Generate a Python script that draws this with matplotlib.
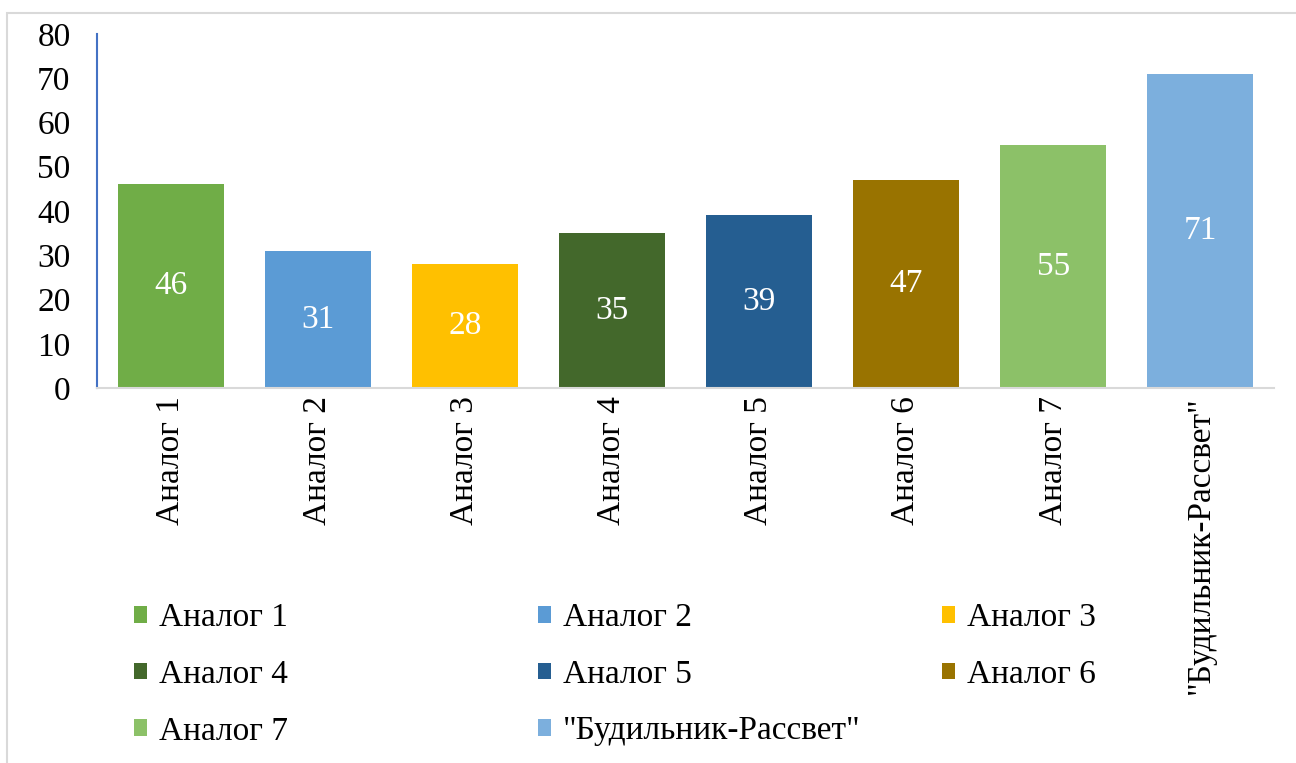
import matplotlib
matplotlib.use("Agg")
import matplotlib.pyplot as plt
from matplotlib.patches import Rectangle

categories = ["Аналог 1", "Аналог 2", "Аналог 3", "Аналог 4", "Аналог 5",
              "Аналог 6", "Аналог 7", "\"Будильник-Рассвет\""]
values = [46, 31, 28, 35, 39, 47, 55, 71]
colors = ["#70AD47", "#5B9BD5", "#FFC000", "#43682B", "#255E91",
          "#997300", "#8CC168", "#7CAFDD"]
y_ticks = [0, 10, 20, 30, 40, 50, 60, 70, 80]

plt.rcParams["font.family"] = ["Liberation Serif", "DejaVu Serif"]
FS = 24

W, H = 1296, 763
fig = plt.figure(figsize=(W / 100, H / 100), dpi=100)
ax = fig.add_axes([97 / W, 1 - 388 / H, (1274 - 97) / W, (388 - 34) / H])

x = list(range(len(categories)))
bars = ax.bar(x, values, width=0.72, color=colors, zorder=2)
for rect, v in zip(bars, values):
    ax.text(rect.get_x() + rect.get_width() / 2, v / 2, str(v),
            ha="center", va="center", color="white", fontsize=FS)

ax.set_xlim(-0.5, len(categories) - 0.5)
ax.set_ylim(0, 80)
ax.set_yticks(y_ticks)
ax.set_xticks(x)
ax.set_xticklabels(categories, rotation=90, fontsize=FS, va="top", ha="center")
ax.tick_params(axis="y", length=0, pad=19, labelsize=FS)
ax.tick_params(axis="x", length=0, pad=6)
for s in ["top", "right"]:
    ax.spines[s].set_visible(False)
ax.spines["left"].set_color("#4472C4")
ax.spines["left"].set_linewidth(1.5)
ax.spines["bottom"].set_color("#D9D9D9")
ax.spines["bottom"].set_linewidth(1.5)

# legend laid out as three equal-width columns, filled row by row
col_x = [134 / W, 538 / W, 942 / W]
for c in range(3):
    idx = list(range(c, len(categories), 3))
    leg = fig.legend([bars[i] for i in idx], [categories[i] for i in idx],
                     loc="upper left", bbox_to_anchor=(col_x[c], 1 - 603 / H),
                     frameon=False, fontsize=FS, handlelength=0.38,
                     handleheight=0.38, handletextpad=0.36, labelspacing=0.78,
                     borderaxespad=0, borderpad=0)

fig.patches.append(Rectangle((7 / W, -0.1), 1.2, 1 - 13 / H + 0.1,
                             transform=fig.transFigure, fill=False,
                             edgecolor="#D9D9D9", linewidth=1.5))

fig.savefig("out.png", dpi=100)
